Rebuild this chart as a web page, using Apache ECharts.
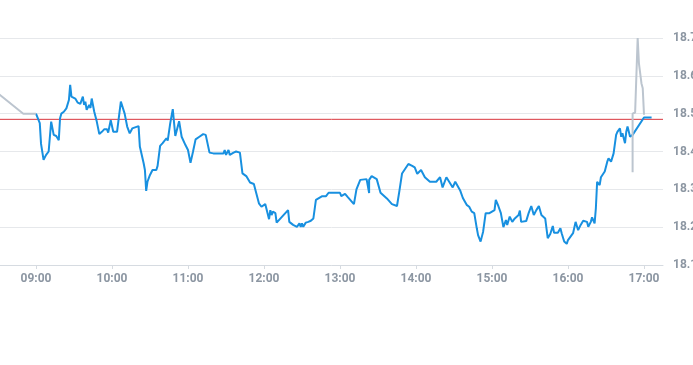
<!DOCTYPE html>
<html>
<head>
<meta charset="utf-8">
<script src="https://cdn.jsdelivr.net/npm/echarts@6/dist/echarts.min.js"></script>
<style>
html,body{margin:0;padding:0;background:#fff;}
#chart{width:693px;height:365px;}
</style>
</head>
<body>
<div id="chart"></div>
<script>
// Intraday price (blue): times and values
var blueTimes = ["09:00","09:03","09:04","09:06","09:08","09:09","09:10","09:12","09:14","09:16","09:18","09:19","09:20","09:22","09:24","09:26","09:27","09:28","09:31","09:33","09:35","09:36","09:37","09:38","09:39","09:40","09:42","09:43","09:44","09:46","09:48","09:50","09:52","09:54","09:56","09:57","09:59","10:01","10:04","10:07","10:10","10:12","10:14","10:16","10:21","10:22","10:25","10:26","10:27","10:28","10:30","10:32","10:35","10:36","10:37","10:38","10:40","10:43","10:44","10:46","10:48","10:50","10:51","10:53","10:55","10:58","11:00","11:02","11:04","11:06","11:09","11:12","11:14","11:17","11:20","11:28","11:29","11:30","11:32","11:33","11:36","11:38","11:41","11:43","11:46","11:49","11:52","11:56","11:58","11:59","12:01","12:02","12:04","12:05","12:06","12:07","12:09","12:10","12:19","12:20","12:23","12:26","12:28","12:29","12:30","12:31","12:33","12:35","12:37","12:38","12:39","12:41","12:44","12:46","12:49","12:51","13:00","13:01","13:04","13:06","13:11","13:13","13:16","13:21","13:22","13:23","13:23","13:25","13:29","13:32","13:37","13:41","13:45","13:47","13:49","13:54","13:57","13:59","14:01","14:04","14:07","14:11","14:16","14:19","14:21","14:24","14:29","14:31","14:35","14:37","14:40","14:42","14:44","14:46","14:48","14:49","14:51","14:52","14:53","14:55","14:58","15:02","15:03","15:05","15:07","15:09","15:11","15:12","15:14","15:16","15:18","15:21","15:22","15:23","15:27","15:29","15:31","15:33","15:35","15:37","15:39","15:42","15:44","15:46","15:48","15:49","15:52","15:54","15:55","15:57","15:59","16:00","16:02","16:04","16:06","16:08","16:10","16:12","16:15","16:16","16:18","16:19","16:21","16:22","16:23","16:25","16:26","16:29","16:31","16:32","16:34","16:36","16:38","16:39","16:41","16:42","16:43","16:45","16:46","16:47","16:49","16:51","17:00","17:06"];
var blueValues = [18.50,18.475,18.42,18.378,18.391,18.393,18.40,18.479,18.444,18.441,18.43,18.488,18.50,18.505,18.514,18.536,18.576,18.545,18.54,18.529,18.526,18.526,18.545,18.523,18.532,18.51,18.523,18.515,18.54,18.505,18.479,18.446,18.452,18.459,18.459,18.45,18.483,18.452,18.452,18.532,18.50,18.466,18.448,18.461,18.467,18.413,18.369,18.351,18.296,18.32,18.338,18.351,18.351,18.362,18.36,18.415,18.422,18.435,18.429,18.475,18.512,18.441,18.441,18.48,18.439,18.417,18.404,18.37,18.40,18.432,18.439,18.446,18.444,18.397,18.395,18.395,18.404,18.391,18.404,18.391,18.397,18.40,18.397,18.342,18.335,18.318,18.314,18.263,18.254,18.252,18.261,18.259,18.221,18.245,18.232,18.241,18.237,18.212,18.245,18.214,18.206,18.201,18.21,18.201,18.21,18.201,18.212,18.214,18.217,18.214,18.223,18.272,18.278,18.282,18.282,18.291,18.291,18.282,18.288,18.28,18.261,18.30,18.325,18.327,18.327,18.29,18.325,18.335,18.327,18.291,18.276,18.261,18.256,18.298,18.342,18.367,18.362,18.358,18.341,18.351,18.332,18.32,18.32,18.332,18.305,18.332,18.305,18.32,18.296,18.277,18.259,18.254,18.241,18.237,18.197,18.179,18.162,18.175,18.188,18.237,18.237,18.245,18.272,18.256,18.237,18.20,18.219,18.206,18.228,18.214,18.223,18.232,18.244,18.214,18.216,18.238,18.256,18.232,18.245,18.256,18.232,18.223,18.171,18.182,18.203,18.185,18.185,18.197,18.184,18.162,18.156,18.166,18.175,18.184,18.214,18.192,18.206,18.217,18.214,18.201,18.214,18.226,18.21,18.25,18.32,18.311,18.332,18.347,18.373,18.382,18.373,18.395,18.444,18.452,18.461,18.439,18.448,18.422,18.452,18.466,18.439,18.444,18.49,18.49];

// Pre/post market price (gray); null breaks the line
var grayTimes = ["08:31","08:50","09:00",null,"16:51","16:51","16:53","16:54","16:55","16:56","16:58","16:59","17:00"];
var grayValues = [18.551,18.50,18.50,null,18.345,18.50,18.503,18.505,18.70,18.633,18.58,18.567,18.497];

// Reference (previous close) level
var refLevel = 18.485;

// Axis ticks
var xTickLabels = ["09:00","10:00","11:00","12:00","13:00","14:00","15:00","16:00","17:00"];
var yTickLabels = [18.1,18.2,18.3,18.4,18.5,18.6,18.7];
var xStart = "08:31:36";
var xEnd = "17:15";

function toMin(s){
  var p = s.split(":");
  return (+p[0])*60 + (+p[1]) + (p[2] ? (+p[2])/60 : 0);
}
function fmt(m){
  var h = Math.floor(m/60), mm = Math.round(m - h*60);
  return (h<10?"0":"")+h+":"+(mm<10?"0":"")+mm;
}
var blueData = blueTimes.map(function(t,i){ return [toMin(t), blueValues[i]]; });
var grayData = grayTimes.map(function(t,i){ return t===null ? [null,null] : [toMin(t), grayValues[i]]; });
var refData = [[toMin(xStart), refLevel], [toMin(xEnd), refLevel]];
var xTicks = xTickLabels.map(toMin);

var labelColor = "#8c96a2";
var refColor = "#d9363e";
var chart = echarts.init(document.getElementById("chart"), null, {renderer:"canvas"});
chart.setOption({
  animation: false,
  grid: {left: 0, right: 30, top: 38, bottom: 100, containLabel: false, outerBoundsMode: "none"},
  xAxis: {
    type: "value",
    min: toMin(xStart),
    max: toMin(xEnd),
    splitLine: {show: false},
    axisLine: {show: true, lineStyle: {color: "#d6dbe1", width: 1}},
    axisTick: {show: true, length: 4, customValues: xTicks, lineStyle: {color: "#d6dbe1"}},
    axisLabel: {
      customValues: xTicks,
      formatter: function(v){ return fmt(v); },
      color: labelColor, fontSize: 12, fontWeight: "bold", margin: 8,
      fontFamily: "Roboto, 'Noto Sans', sans-serif"
    }
  },
  yAxis: {
    type: "value",
    position: "right",
    min: yTickLabels[0],
    max: yTickLabels[yTickLabels.length-1],
    interval: 0.1,
    axisLine: {show: false},
    axisTick: {show: false},
    splitLine: {show: true, lineStyle: {color: "#e6e8eb", width: 1}},
    axisLabel: {
      formatter: function(v){ return v.toFixed(1); },
      color: labelColor, fontSize: 12, fontWeight: "bold", margin: 10,
      fontFamily: "Roboto, 'Noto Sans', sans-serif"
    }
  },
  series: [
    {
      type: "line",
      data: refData,
      showSymbol: false,
      symbol: "none",
      silent: true,
      color: refColor,
      lineStyle: {color: refColor, width: 1},
      z: 2
    },
    {
      type: "line",
      data: blueData,
      showSymbol: false,
      symbol: "none",
      color: "#1890e0",
      lineStyle: {color: "#1890e0", width: 2},
      z: 3
    },
    {
      type: "line",
      data: grayData,
      showSymbol: false,
      symbol: "none",
      connectNulls: false,
      color: "#bcc5cf",
      lineStyle: {color: "#bcc5cf", width: 2},
      z: 4
    }
  ]
});
</script>
</body>
</html>
